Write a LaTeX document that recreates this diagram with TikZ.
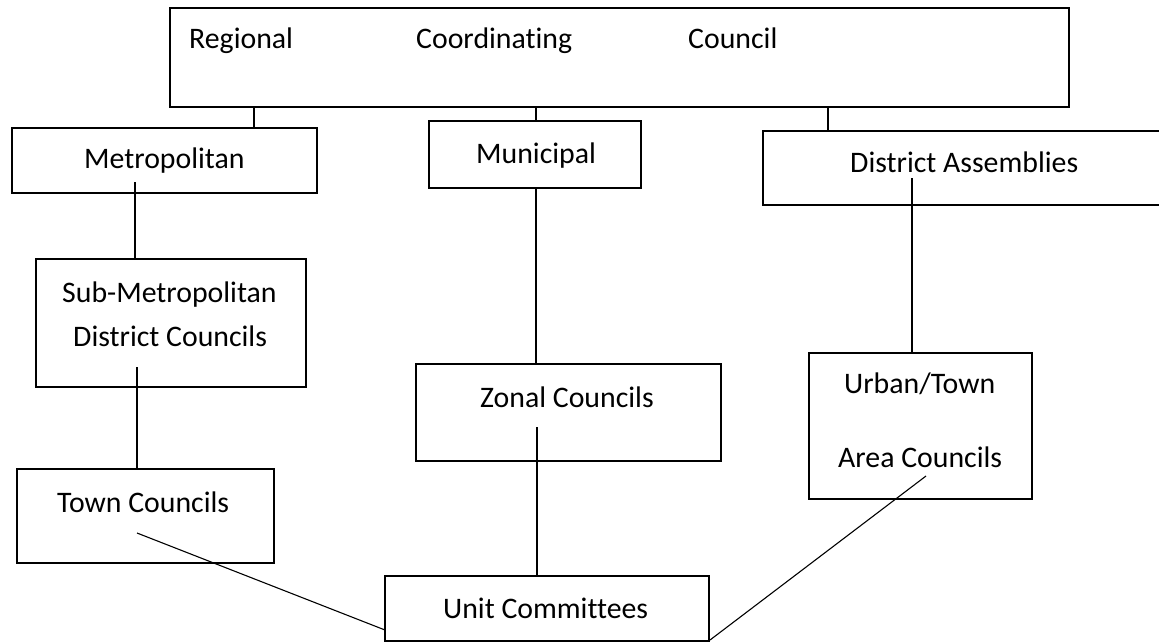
\documentclass[tikz,border=0pt]{standalone}
\usepackage{fontspec}
\setmainfont{Carlito}[Ligatures=CommonOff]
\begin{document}
\begin{tikzpicture}[x=1pt,y=-1pt,
  box/.style={draw=black,line width=1.4pt,inner sep=0pt},
  lbl/.style={anchor=base west,inner sep=0pt,font=\fontsize{29.8}{34}\selectfont},
  link/.style={draw=black,line width=1.4pt},
  diag/.style={draw=black,line width=1.1pt}]
\useasboundingbox (0,0) rectangle (1159,641);
\clip (0,0) rectangle (1159,641);
% boxes
\node[box,minimum width=899pt,minimum height=99pt] (rcc) at (619.5,57.5) {};
\node[box,minimum width=305pt,minimum height=65pt] (metro) at (164.5,160.5) {};
\node[box,minimum width=212pt,minimum height=67pt] (muni) at (535,154.5) {};
\node[box,minimum width=402pt,minimum height=74pt] (dist) at (964,168) {};
\node[box,minimum width=270pt,minimum height=128pt] (sub) at (171,323) {};
\node[box,minimum width=305pt,minimum height=97pt] (zonal) at (568.5,412.5) {};
\node[box,minimum width=223pt,minimum height=146pt] (urban) at (920.5,426) {};
\node[box,minimum width=257pt,minimum height=94pt] (town) at (145.5,516) {};
\node[box,minimum width=324pt,minimum height=65pt] (unit) at (547,608.5) {};
% texts
\node[lbl] (t1) at (189,48) {Regional};
\node[lbl] (t2) at (416,48) {Coordinating};
\node[lbl] (t3) at (688,48) {Council};
\node[lbl] (t4) at (84,168) {Metropolitan};
\node[lbl] (t5) at (476,163) {Municipal};
\node[lbl] (t6) at (850,172) {District Assemblies};
\node[lbl] (t7) at (62,302) {Sub-Metropolitan};
\node[lbl] (t8) at (73,346) {District Councils};
\node[lbl] (t9) at (480,407) {Zonal Councils};
\node[lbl] (t10) at (844,393) {Urban/Town};
\node[lbl] (t11) at (838,467) {Area Councils};
\node[lbl] (t12) at (57,512) {Town Councils};
\node[lbl] (t13) at (443,618) {Unit Committees};
% free ends inside boxes
\coordinate (cmetro) at (135,182);
\coordinate (cdist) at (912,178);
\coordinate (csub) at (137,367);
\coordinate (czonal) at (537,427);
\coordinate (ctown) at (137,533);
\coordinate (curban) at (926,476);
\coordinate (uleft) at (385,630);
\coordinate (uright) at (710,640);
% connectors
\draw[link] (254,107) coordinate (r1) -- (r1 |- metro.north);
\draw[link] (536,107) coordinate (r2) -- (r2 |- muni.north);
\draw[link] (828,107) coordinate (r3) -- (r3 |- dist.north);
\draw[link] (cmetro) -- (cmetro |- sub.north);
\draw[link] (muni.south -| 536,0) -- (zonal.north -| 536,0);
\draw[link] (cdist) -- (cdist |- urban.north);
\draw[link] (csub) -- (csub |- town.north);
\draw[link] (czonal) -- (czonal |- unit.north);
\draw[diag] (ctown) -- (uleft);
\draw[diag] (curban) -- (uright);
\end{tikzpicture}
\end{document}
